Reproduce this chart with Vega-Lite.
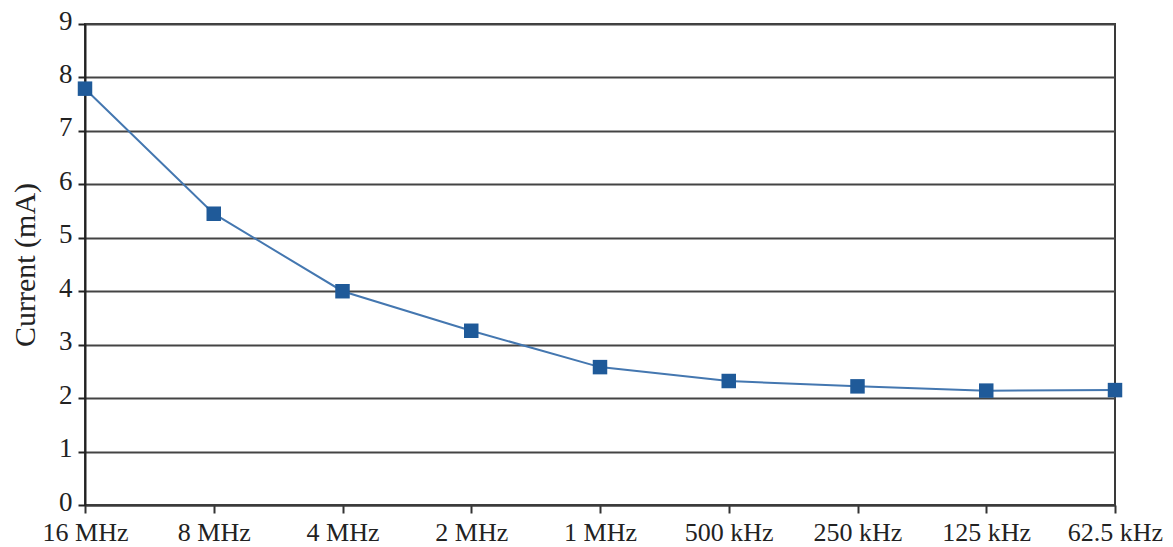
{
  "$schema": "https://vega.github.io/schema/vega-lite/v6.json",
  "width": 1030,
  "height": 481,
  "autosize": "none",
  "padding": {"left": 85, "top": 24, "right": 58, "bottom": 42},
  "background": "white",
  "data": {
    "values": [
      {"freq": "16 MHz", "current": 7.79},
      {"freq": "8 MHz", "current": 5.45},
      {"freq": "4 MHz", "current": 4.0},
      {"freq": "2 MHz", "current": 3.26},
      {"freq": "1 MHz", "current": 2.58},
      {"freq": "500 kHz", "current": 2.32},
      {"freq": "250 kHz", "current": 2.22},
      {"freq": "125 kHz", "current": 2.14},
      {"freq": "62.5 kHz", "current": 2.15}
    ]
  },
  "config": {
    "view": {"stroke": "#3a3a3a", "strokeWidth": 2},
    "axis": {
      "labelFont": "Liberation Serif",
      "titleFont": "Liberation Serif",
      "labelColor": "#222",
      "titleColor": "#222",
      "labelFontWeight": "normal",
      "titleFontWeight": "normal"
    }
  },
  "encoding": {
    "x": {
      "field": "freq",
      "type": "ordinal",
      "sort": null,
      "scale": {"type": "point", "padding": 0},
      "axis": {
        "title": null,
        "labelAngle": 0,
        "labelFontSize": 26,
        "labelPadding": 6,
        "tickSize": 8,
        "tickColor": "#333",
        "tickWidth": 2,
        "domainColor": "#3a3a3a",
        "domainWidth": 2,
        "grid": false
      }
    },
    "y": {
      "field": "current",
      "type": "quantitative",
      "scale": {"domain": [0, 9], "nice": false},
      "axis": {
        "title": "Current (mA)",
        "titleFontSize": 30,
        "titlePadding": 18,
        "labelFontSize": 27,
        "labelPadding": 6,
        "labelBaseline": "middle",
        "labelOffset": -3,
        "values": [0, 1, 2, 3, 4, 5, 6, 7, 8, 9],
        "tickSize": 7,
        "tickColor": "#222",
        "tickWidth": 2,
        "domainColor": "#222",
        "domainWidth": 2,
        "grid": true,
        "gridColor": "#444",
        "gridWidth": 2,
        "gridOpacity": 1
      }
    }
  },
  "layer": [
    {"mark": {"type": "line", "color": "#4477b0", "strokeWidth": 2}},
    {"mark": {"type": "point", "shape": "square", "filled": true, "color": "#1f5a99", "opacity": 1, "size": 210}}
  ]
}
